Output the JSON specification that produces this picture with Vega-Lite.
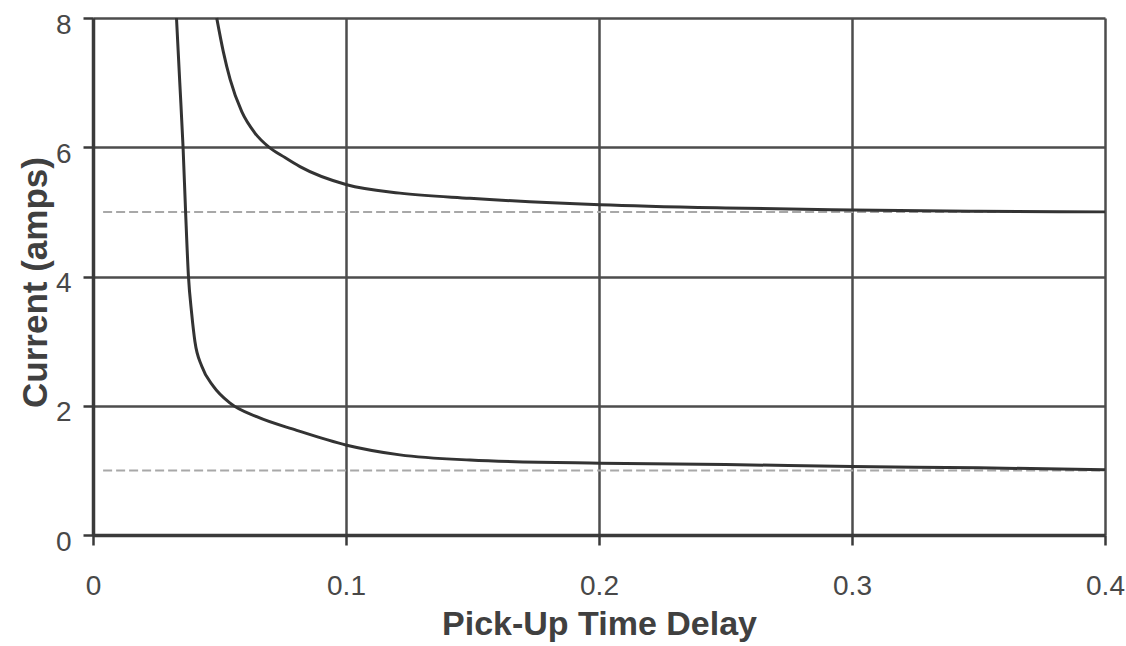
{
  "$schema": "https://vega.github.io/schema/vega-lite/v6.json",
  "width": 1012,
  "height": 517,
  "autosize": {"type": "none"},
  "padding": {"left": 93, "top": 18, "right": 21, "bottom": 111},
  "background": "white",
  "config": {
    "view": {"stroke": null},
    "font": "Liberation Sans"
  },
  "datasets": {
    "curves": [
      {"series": "upper", "delay": 0.0489, "current": 8.0},
      {"series": "upper", "delay": 0.0515, "current": 7.48},
      {"series": "upper", "delay": 0.0542, "current": 7.05},
      {"series": "upper", "delay": 0.0588, "current": 6.55},
      {"series": "upper", "delay": 0.064, "current": 6.22},
      {"series": "upper", "delay": 0.0693, "current": 6.01},
      {"series": "upper", "delay": 0.0759, "current": 5.84},
      {"series": "upper", "delay": 0.0818, "current": 5.7},
      {"series": "upper", "delay": 0.1003, "current": 5.42},
      {"series": "upper", "delay": 0.1213, "current": 5.29},
      {"series": "upper", "delay": 0.149, "current": 5.21},
      {"series": "upper", "delay": 0.2004, "current": 5.11},
      {"series": "upper", "delay": 0.25, "current": 5.06},
      {"series": "upper", "delay": 0.3, "current": 5.03},
      {"series": "upper", "delay": 0.35, "current": 5.01},
      {"series": "upper", "delay": 0.4, "current": 5.0},
      {"series": "lower", "delay": 0.033, "current": 8.0},
      {"series": "lower", "delay": 0.0343, "current": 7.0},
      {"series": "lower", "delay": 0.0356, "current": 6.0},
      {"series": "lower", "delay": 0.0366, "current": 5.0},
      {"series": "lower", "delay": 0.0377, "current": 4.02},
      {"series": "lower", "delay": 0.039, "current": 3.43},
      {"series": "lower", "delay": 0.0403, "current": 2.99},
      {"series": "lower", "delay": 0.043, "current": 2.61},
      {"series": "lower", "delay": 0.0476, "current": 2.3},
      {"series": "lower", "delay": 0.0542, "current": 2.04},
      {"series": "lower", "delay": 0.0647, "current": 1.83},
      {"series": "lower", "delay": 0.0805, "current": 1.62},
      {"series": "lower", "delay": 0.1003, "current": 1.39},
      {"series": "lower", "delay": 0.1213, "current": 1.24},
      {"series": "lower", "delay": 0.149, "current": 1.16},
      {"series": "lower", "delay": 0.2004, "current": 1.11},
      {"series": "lower", "delay": 0.25, "current": 1.09},
      {"series": "lower", "delay": 0.3, "current": 1.06},
      {"series": "lower", "delay": 0.35, "current": 1.04},
      {"series": "lower", "delay": 0.4, "current": 1.01}
    ],
    "thresholds": [
      {"level": "5 A", "delay": 0.004, "current": 5},
      {"level": "5 A", "delay": 0.4, "current": 5},
      {"level": "1 A", "delay": 0.004, "current": 1},
      {"level": "1 A", "delay": 0.4, "current": 1}
    ]
  },
  "layer": [
    {
      "data": {"name": "thresholds"},
      "mark": {"type": "line", "color": "#a8a8a8", "strokeWidth": 2, "strokeDash": [9, 4]},
      "encoding": {
        "x": {
          "field": "delay", "type": "quantitative",
          "scale": {"domain": [0, 0.4], "nice": false},
          "axis": {
            "title": "Pick-Up Time Delay",
            "values": [0, 0.1, 0.2, 0.3, 0.4],
            "format": "~g",
            "labelFlush": false,
            "grid": true, "gridColor": "#4d4d4d", "gridWidth": 2.5, "gridOpacity": 1,
            "domainColor": "#3a3a3a", "domainWidth": 3.5,
            "tickColor": "#3a3a3a", "tickWidth": 2.5, "tickSize": 10,
            "labelFont": "Liberation Sans", "labelFontSize": 28, "labelColor": "#484848",
            "labelPadding": 27,
            "titleFont": "Liberation Sans", "titleFontSize": 34, "titleFontWeight": "bold", "titleColor": "#404040",
            "titlePadding": 7
          }
        },
        "y": {
          "field": "current", "type": "quantitative",
          "scale": {"domain": [0, 8], "nice": false},
          "axis": {
            "title": "Current (amps)",
            "values": [0, 2, 4, 6, 8],
            "format": "d",
            "grid": true, "gridColor": "#4d4d4d", "gridWidth": 2.5, "gridOpacity": 1,
            "domainColor": "#3a3a3a", "domainWidth": 3.5,
            "tickColor": "#3a3a3a", "tickWidth": 2.5, "tickSize": 10,
            "labelFont": "Liberation Sans", "labelFontSize": 28, "labelColor": "#484848",
            "labelPadding": 12, "labelOffset": 7, "labelFlush": false,
            "titleFont": "Liberation Sans", "titleFontSize": 35, "titleFontWeight": "bold", "titleColor": "#404040",
            "titlePadding": 2, "titleY": 264
          }
        },
        "detail": {"field": "level"}
      }
    },
    {
      "data": {"name": "curves"},
      "mark": {"type": "line", "color": "#333333", "strokeWidth": 3, "interpolate": "monotone"},
      "encoding": {
        "x": {"field": "delay", "type": "quantitative"},
        "y": {"field": "current", "type": "quantitative"},
        "detail": {"field": "series"}
      }
    }
  ]
}
